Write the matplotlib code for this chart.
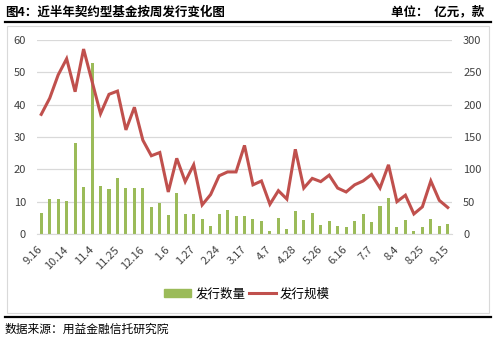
import matplotlib
matplotlib.use("Agg")
import matplotlib.pyplot as plt
from matplotlib.patches import Rectangle
from matplotlib.lines import Line2D

plt.rcParams['font.family'] = ['Noto Sans CJK SC', 'DejaVu Sans']

# weekly issuance: count (left axis) and scale in 亿元 (right axis)
tick_labels = ["9.16", "10.14", "11.4", "11.25", "12.16", "1.6", "1.27", "2.24", "3.17",
               "4.7", "4.28", "5.26", "6.16", "7.7", "8.4", "8.25", "9.15"]
counts = [6.6, 10.8, 10.8, 10.2, 28, 14.6, 53, 14.9, 13.9, 17.4, 14.3, 14.3, 14.2,
          8.5, 9.7, 6.0, 12.8, 6.2, 6.2, 4.7, 2.6, 6.2, 7.4, 5.7, 5.6, 4.7, 4.1,
          1.0, 5.0, 1.6, 7.2, 4.4, 6.5, 2.8, 4.1, 2.5, 2.1, 4.1, 6.2, 3.8, 8.7,
          11.1, 2.3, 4.3, 1.0, 2.2, 4.6, 2.5, 3.1]
scale = [185, 210, 246, 271, 220, 286, 236, 186, 216, 221, 161, 196, 145,
         121, 126, 65, 117, 81, 107, 45, 61, 90, 96, 96, 137, 76, 82,
         46, 67, 54, 131, 71, 86, 81, 91, 71, 65, 76, 82, 92, 71,
         107, 50, 60, 31, 42, 82, 52, 41]

green = "#9BBB59"
red = "#C0504D"

fig = plt.figure(figsize=(4.94, 3.38), dpi=100)
W, H = 494, 338

def fx(px):
    return px / W

def fy(py):
    return 1 - py / H

# header / footer rules and chart frame
fig.add_artist(Line2D([fx(5), fx(491)], [fy(22), fy(22)], color="black", lw=1.6))
fig.add_artist(Line2D([fx(5), fx(491)], [fy(317), fy(317)], color="black", lw=1.6))
fig.add_artist(Rectangle((fx(7), fy(313)), fx(482), 287 / H, fill=False,
                         edgecolor="#d9d9d9", lw=0.8))

fig.text(fx(5), fy(12), "图4：近半年契约型基金按周发行变化图", fontsize=9,
         fontweight="bold", va="center", ha="left")
fig.text(fx(484), fy(12), "单位：  亿元，款", fontsize=9,
         fontweight="bold", va="center", ha="right")
fig.text(fx(5), fy(329), "数据来源：用益金融信托研究院", fontsize=8.5,
         va="center", ha="left")

ax = fig.add_axes([fx(37), fy(234), fx(415), 194 / H])
x = list(range(len(counts)))
ax.bar(x, counts, width=0.36, color=green, zorder=2)
ax.set_ylim(0, 60)
ax.set_yticks(range(0, 61, 10))
ax.set_xlim(-0.5, len(counts) - 0.5)
ax.grid(axis="y", color="#d9d9d9", lw=0.9, zorder=0)
ax.set_axisbelow(True)
for s in ["top", "left", "right"]:
    ax.spines[s].set_visible(False)
ax.spines["bottom"].set_color("#d9d9d9")
ax.tick_params(axis="both", length=0, labelsize=8, colors="#404040")
ax.tick_params(axis="y", pad=8)
ax.set_xticks(x[::3])
ax.set_xticklabels(tick_labels, rotation=45, ha="right", va="center",
                   rotation_mode="anchor")
ax.tick_params(axis="x", pad=10)

ax2 = ax.twinx()
ax2.plot(x, scale, color=red, lw=2.2, solid_joinstyle="miter", zorder=3)
ax2.set_ylim(0, 300)
ax2.set_yticks(range(0, 301, 50))
for s in ax2.spines.values():
    s.set_visible(False)
ax2.tick_params(axis="y", length=0, labelsize=8, colors="#404040", pad=8)

handles = [Rectangle((0, 0), 1, 1, color=green),
           Line2D([0], [0], color=red, lw=2.2)]
fig.legend(handles, ["发行数量", "发行规模"], loc="center",
           bbox_to_anchor=(fx(247), fy(294)), ncol=2, frameon=False,
           fontsize=9, handlelength=2.2, handleheight=0.6,
           columnspacing=0.3, handletextpad=0.3)

fig.savefig("out.png", dpi=100)
